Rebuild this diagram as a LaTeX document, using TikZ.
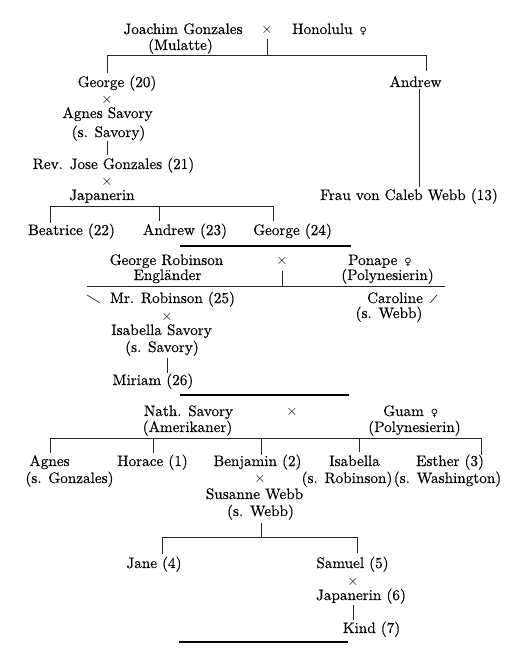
\documentclass[tikz,border=0pt]{standalone}
\usepackage{fontspec}
\setmainfont{lmroman10-regular.otf}[FakeBold=0.4]
\newfontfamily\symfont{DejaVu Sans}
\newcommand{\fem}{{\symfont\fontsize{10}{10}\selectfont ♀}}
\newcommand{\marr}{\raisebox{-0.5pt}{\smash{$\times$}}}
\begin{document}
\begin{tikzpicture}[x=1pt,y=-1pt,
  lbl/.style={anchor=base,inner sep=0pt,font=\fontsize{15.2}{16}\selectfont},
  lblw/.style={anchor=base west,inner sep=0pt,font=\fontsize{15.2}{16}\selectfont},
  mar/.style={inner sep=0pt,anchor=base,font=\fontsize{14}{14}\selectfont},
  conn/.style={line width=0.7pt,draw=black!85},
  sep/.style={line width=1.8pt,draw=black}]
\useasboundingbox (0,0) rectangle (523,667);
% --- Gonzales
\node[lbl] (joachim) at (183,34) {Joachim Gonzales};
\node[lbl] (mulatte) at (180.5,50) {(Mulatte)};
\node[mar] (x1) at (267,33) {\marr};
\node[lblw] (honolulu) at (292,34) {Honolulu\hspace{7pt}\fem};
\node[lbl] (george20) at (117,87) {George (20)};
\node[mar] (x2) at (107,103) {\marr};
\node[lbl] (agnessav) at (107.5,118) {Agnes Savory};
\node[lbl] (ssav1) at (108.5,137) {(s. Savory)};
\node[lbl] (rev) at (113.5,169) {Rev. Jose Gonzales (21)};
\node[mar] (x3) at (107,185) {\marr};
\node[lbl] (jap1) at (102,200) {Japanerin};
\node[lbl] (beatrice) at (71.5,235) {Beatrice (22)};
\node[lbl] (andrew23) at (185,235) {Andrew (23)};
\node[lbl] (george24) at (292.5,235) {George (24)};
\node[lbl] (andrew) at (415.5,87) {Andrew};
\node[lbl] (frau) at (409,200) {Frau von Caleb Webb (13)};
\coordinate (a1) at (267,39); \coordinate (a2) at (267,55);
\coordinate (a3) at (107,55); \coordinate (a4) at (426,55);
\coordinate (a5) at (107,73); \coordinate (a6) at (426,71);
\coordinate (a7) at (419,89); \coordinate (a8) at (419,187);
\coordinate (a9) at (107,141); \coordinate (a10) at (107,155);
\coordinate (b1) at (50,206); \coordinate (b2) at (273,206);
\coordinate (b3) at (50,223); \coordinate (b4) at (159,206);
\coordinate (b5) at (159,221); \coordinate (b6) at (273,221);
\draw[conn] (a1) -- (a2);
\draw[conn] (a5) -- (a3) -- (a4) -- (a6);
\draw[conn] (a7) -- (a8);
\draw[conn] (a9) -- (a10);
\draw[conn] (b3) -- (b1) -- (b2) -- (b6);
\draw[conn] (b4) -- (b5);
\coordinate (s1a) at (180,246); \coordinate (s1b) at (351,246);
\draw[sep] (s1a) -- (s1b);
% --- Robinson
\node[lbl] (grob) at (166.5,265) {George Robinson};
\node[lbl] (englaender) at (167.5,280) {Engländer};
\node[mar] (x4) at (282,264) {\marr};
\node[lblw] (ponape) at (348,265) {Ponape\hspace{7pt}\fem};
\node[lbl] (poly1) at (387.5,280) {(Polynesierin)};
\node[lbl] (mrrob) at (172.5,303) {Mr. Robinson (25)};
\node[mar] (x5) at (167,320) {\marr};
\node[lbl] (isav) at (161.5,335) {Isabella Savory};
\node[lbl] (ssav2) at (162,352) {(s. Savory)};
\node[lbl] (miriam) at (153,385) {Miriam (26)};
\node[lbl] (caroline) at (395,303) {Caroline};
\node[lbl] (swebb1) at (389,318) {(s. Webb)};
\coordinate (c1) at (282,271); \coordinate (c2) at (282,286);
\coordinate (c3) at (87,286); \coordinate (c4) at (445,286);
\coordinate (c5) at (87,295); \coordinate (c6) at (100,303);
\coordinate (c7) at (430,303); \coordinate (c8) at (437,295);
\coordinate (c9) at (167,358); \coordinate (c10) at (167,373);
\draw[conn] (c1) -- (c2);
\draw[conn] (c3) -- (c4);
\draw[conn] (c5) -- (c6);
\draw[conn] (c7) -- (c8);
\draw[conn] (c9) -- (c10);
\coordinate (s2a) at (180,395); \coordinate (s2b) at (349,395);
\draw[sep] (s2a) -- (s2b);
% --- Savory
\node[lbl] (nath) at (188.5,416) {Nath. Savory};
\node[lbl] (amer) at (187.5,432) {(Amerikaner)};
\node[mar] (x6) at (292,415) {\marr};
\node[lblw] (guam) at (383,416) {Guam\hspace{7pt}\fem};
\node[lbl] (poly2) at (414.5,432) {(Polynesierin)};
\node[lbl] (agnes) at (49.5,466) {Agnes};
\node[lbl] (sgonz) at (69.5,483) {(s. Gonzales)};
\node[lbl] (horace) at (152.5,466) {Horace (1)};
\node[lbl] (benj) at (257.5,466) {Benjamin (2)};
\node[mar] (x7) at (260,482) {\marr};
\node[lbl] (susanne) at (254.5,499) {Susanne Webb};
\node[lbl] (swebb2) at (260.5,516) {(s. Webb)};
\node[lbl] (isabella) at (354.5,466) {Isabella};
\node[lbl] (srob) at (347,483) {(s. Robinson)};
\node[lbl] (esther) at (450,466) {Esther (3)};
\node[lbl] (swash) at (447.5,483) {(s. Washington)};
\node[lbl] (jane) at (154,568) {Jane (4)};
\node[lbl] (samuel) at (352.5,568) {Samuel (5)};
\node[mar] (x8) at (353,585) {\marr};
\node[lbl] (jap6) at (361,600) {Japanerin (6)};
\node[lbl] (kind) at (371.5,633) {Kind (7)};
\coordinate (d1) at (50,438); \coordinate (d2) at (481,438);
\coordinate (d3) at (50,453); \coordinate (d4) at (481,455);
\coordinate (d5) at (153,438); \coordinate (d6) at (153,453);
\coordinate (d7) at (261,438); \coordinate (d8) at (261,455);
\coordinate (d9) at (359,438); \coordinate (d10) at (359,452);
\draw[conn] (d3) -- (d1) -- (d2) -- (d4);
\draw[conn] (d5) -- (d6);
\draw[conn] (d7) -- (d8);
\draw[conn] (d9) -- (d10);
\coordinate (e1) at (261,523); \coordinate (e2) at (261,537);
\coordinate (e3) at (162,537); \coordinate (e4) at (357,537);
\coordinate (e5) at (162,554); \coordinate (e6) at (357,553);
\coordinate (e7) at (353,605); \coordinate (e8) at (353,620);
\draw[conn] (e1) -- (e2);
\draw[conn] (e5) -- (e3) -- (e4) -- (e6);
\draw[conn] (e7) -- (e8);
\coordinate (s3a) at (179,642); \coordinate (s3b) at (348,642);
\draw[sep] (s3a) -- (s3b);
\end{tikzpicture}
\end{document}
